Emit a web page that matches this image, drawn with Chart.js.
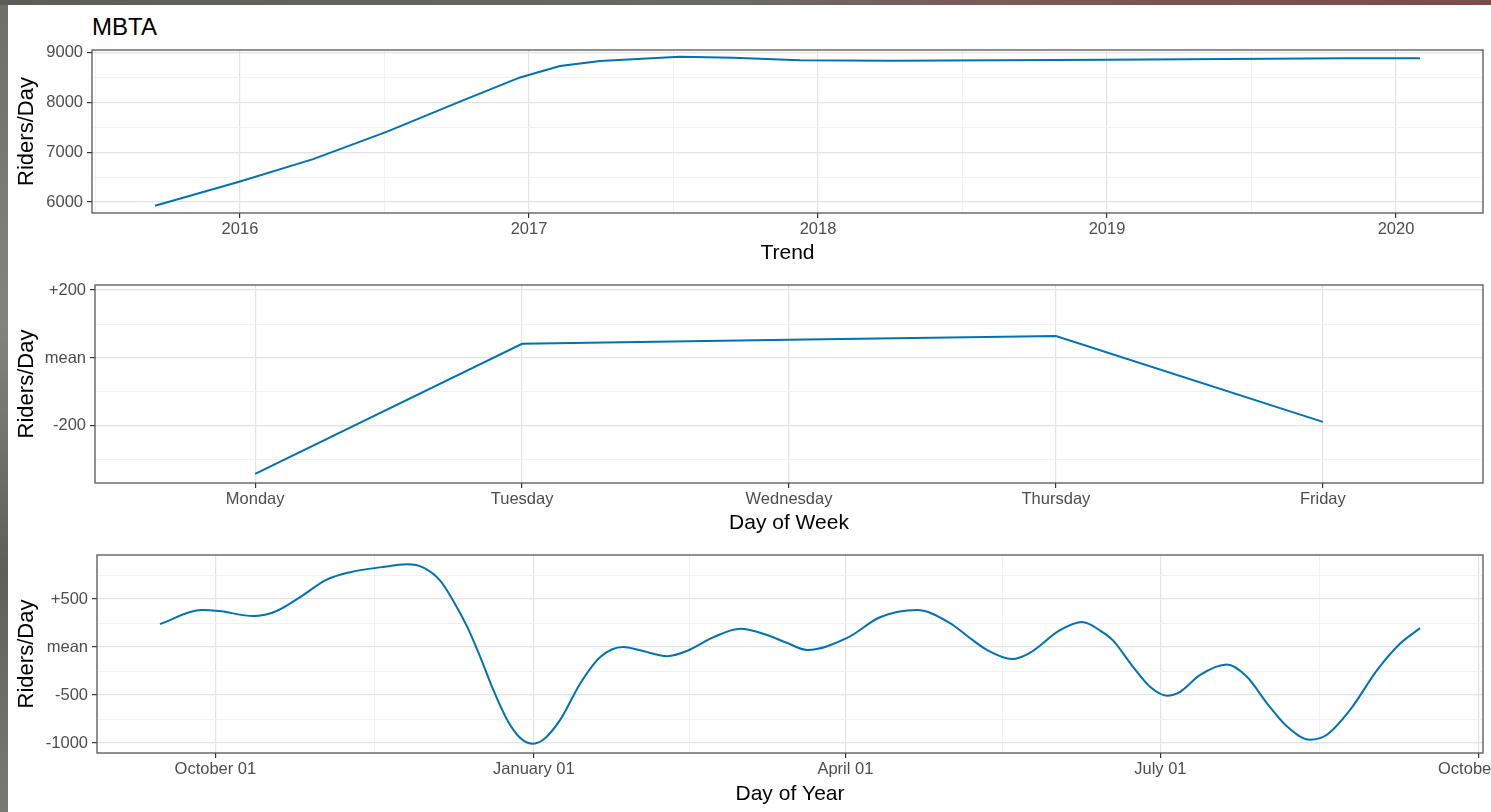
<!DOCTYPE html>
<html>
<head>
<meta charset="utf-8">
<script src="https://cdn.jsdelivr.net/npm/chart.js@4.4.1/dist/chart.umd.min.js"></script>
<style>
  html, body { margin: 0; padding: 0; }
  body {
    width: 1491px; height: 812px; overflow: hidden; position: relative;
    background: linear-gradient(180deg, #6e6e69 0%, #84847e 40%, #5f5f5a 70%, #7a7a74 100%);
  }
  #topstrip {
    position: absolute; left: 0; top: 0; width: 1491px; height: 5px;
    background: linear-gradient(90deg, #5c5c58 0%, #6a6a66 50%, #7a5a58 65%, #7b4b4b 100%);
  }
  #sheet { position: absolute; left: 8px; top: 5px; width: 1483px; height: 807px; background: #fff; }
  canvas { position: absolute; left: 8px; }
  #title {
    position: absolute; left: 92px; top: 13px; line-height: 28px;
    font-family: "Liberation Sans", Arial, sans-serif; font-size: 24px; color: #000;
  }
</style>
</head>
<body>
<div id="topstrip"></div>
<div id="sheet"></div>
<div id="title">MBTA</div>
<canvas id="trendChart" width="1483" height="265" style="top:5px"></canvas>
<canvas id="weekChart" width="1483" height="270" style="top:270px"></canvas>
<canvas id="yearChart" width="1483" height="272" style="top:540px"></canvas>

<script>
// Trend (decimal year -> riders/day)
const trendYears = [2015.706, 2016.0, 2016.253, 2016.509, 2016.761, 2016.969, 2017.107, 2017.246, 2017.522,
    2017.706, 2017.938, 2018.249, 2018.630, 2019.0, 2019.277, 2019.554, 2019.830, 2020.083];
const trendValues = [5927, 6413, 6860, 7413, 8013, 8500, 8727, 8830, 8915,
    8895, 8845, 8833, 8842, 8853, 8865, 8873, 8885, 8887];
const trendYearTicks = [2016, 2017, 2018, 2019, 2020];
const trendValueTicks = [6000, 7000, 8000, 9000];

// Weekly effect
const weekDays = ['Monday', 'Tuesday', 'Wednesday', 'Thursday', 'Friday'];
const weekValues = [-341, 42, 54, 65, -188];
const weekValueTicks = [-200, 0, 200];

// Yearly effect (days after October 01)
const seasonDays = [-16, -4, 1, 11, 17, 24.5, 32, 39, 47.6, 55.4, 60.1, 65, 68.7, 72.8, 76.5, 80.3, 84.3, 88.1,
    91.5, 94.7, 99.6, 105.4, 111.2, 117.8, 122.7, 130.5, 136.3, 143.8, 151.6, 159.4, 165, 171, 182.5, 192,
    202.7, 212.2, 217.4, 222.9, 230.2, 235.3, 244, 250.4, 255.6, 259.3, 265.1, 270, 274.9, 278.7, 284.4,
    292.2, 298, 303.8, 309.6, 316.2, 321.1, 327.8, 335.6, 342.2, 348];
const seasonValues = [240, 385, 375, 323, 365, 520, 700, 780, 830, 862, 828, 690, 483, 207, -103, -448, -759, -948,
    -1007, -966, -759, -379, -103, 0, -34, -95, -40, 100, 190, 125, 45, -30, 95, 310,
    385, 250, 110, -30, -125, -60, 175, 260, 172, 69, -207, -414, -507, -466, -293,
    -183, -310, -586, -828, -966, -914, -655, -241, 34, 197];
const seasonTickDays = [0, 92, 182, 273, 365];
const seasonTickLabels = ['October 01', 'January 01', 'April 01', 'July 01', 'October 01'];
const seasonValueTicks = [-1000, -500, 0, 500];

const FONT = '"Liberation Sans", Arial, sans-serif';
const LINE = '#0072B2';
const GRID_MAJOR = '#e3e3e3';
const GRID_MINOR = '#f1f1f1';

// majors plus ggplot-style minor breaks half way between them
function withMinor(majors, lo, hi, minor) {
    let vals = majors.slice();
    if (minor && majors.length > 1) {
        const step = majors[1] - majors[0];
        for (let i = 0; i < majors.length - 1; i++) vals.push((majors[i] + majors[i + 1]) / 2);
        vals.push(majors[0] - step / 2, majors[majors.length - 1] + step / 2);
    }
    return vals.filter(v => v >= lo && v <= hi).sort((a, b) => a - b);
}

const signed = v => v === 0 ? 'mean' : (v > 0 ? '+' : '') + v;

const panelBorder = {
    id: 'panelBorder',
    afterDraw(chart) {
        const a = chart.chartArea, c = chart.ctx;
        c.save();
        c.strokeStyle = '#555';
        c.lineWidth = 1.3;
        c.strokeRect(a.left, a.top, a.right - a.left, a.bottom - a.top);
        c.restore();
    }
};

function axis(opts) {
    const ticks = withMinor(opts.majors, opts.min, opts.max, opts.minor);
    const isX = opts.axis === 'x';
    return {
        type: 'linear',
        min: opts.min,
        max: opts.max,
        afterBuildTicks: s => { s.ticks = ticks.map(v => ({ value: v })); },
        afterFit: s => {
            if (isX) { s.height = opts.size; s.paddingLeft = 0; s.paddingRight = 0; }
            else { s.width = opts.size; s.paddingTop = 0; s.paddingBottom = 0; }
        },
        border: { display: false },
        grid: {
            color: c => opts.majors.includes(c.tick.value) ? GRID_MAJOR : GRID_MINOR,
            lineWidth: c => opts.majors.includes(c.tick.value) ? 1.2 : 1,
            tickColor: c => opts.majors.includes(c.tick.value) ? '#333' : 'rgba(0,0,0,0)',
            tickLength: 5,
            tickWidth: 1.2
        },
        ticks: {
            autoSkip: false,
            maxRotation: 0,
            padding: isX ? 2 : 4,
            color: '#4d4d4d',
            font: { family: FONT, size: 16.5 },
            callback: v => opts.majors.includes(v) ? opts.fmt(v) : ''
        },
        title: {
            display: true,
            text: opts.title,
            color: '#000',
            font: { family: FONT, size: isX ? 21 : 22 },
            padding: isX ? { top: 0, bottom: opts.titlePad } : { top: 6, bottom: 0 }
        }
    };
}

function makeChart(id, points, tension, xAxis, yAxis, padTop) {
    return new Chart(document.getElementById(id), {
        type: 'line',
        data: {
            datasets: [{
                data: points,
                borderColor: LINE,
                borderWidth: 2,
                pointRadius: 0,
                tension: tension,
                cubicInterpolationMode: tension ? 'monotone' : 'default',
                fill: false
            }]
        },
        options: {
            responsive: false,
            animation: false,
            layout: { autoPadding: false, padding: { top: padTop, right: 8, bottom: 0, left: 0 } },
            plugins: { legend: { display: false }, tooltip: { enabled: false } },
            scales: { x: xAxis, y: yAxis }
        },
        plugins: [panelBorder]
    });
}

makeChart('trendChart',
    trendYears.map((x, i) => ({ x: x, y: trendValues[i] })), 0,
    axis({ axis: 'x', min: 2015.488, max: 2020.301, majors: trendYearTicks, minor: true,
        fmt: v => String(v), title: 'Trend', size: 57, titlePad: 4 }),
    axis({ axis: 'y', min: 5780, max: 9050, majors: trendValueTicks, minor: true,
        fmt: v => String(v), title: 'Riders/Day', size: 84 }),
    45);

makeChart('weekChart',
    weekValues.map((v, i) => ({ x: i, y: v })), 0,
    axis({ axis: 'x', min: -0.6, max: 4.6, majors: weekDays.map((d, i) => i), minor: false,
        fmt: v => weekDays[v], title: 'Day of Week', size: 57, titlePad: 4 }),
    axis({ axis: 'y', min: -368, max: 215, majors: weekValueTicks, minor: true,
        fmt: signed, title: 'Riders/Day', size: 87 }),
    15);

makeChart('yearChart',
    seasonDays.map((x, i) => ({ x: x, y: seasonValues[i] })), 0.4,
    axis({ axis: 'x', min: -34.2, max: 366.2, majors: seasonTickDays, minor: true,
        fmt: v => seasonTickLabels[seasonTickDays.indexOf(v)], title: 'Day of Year', size: 59, titlePad: 5 }),
    axis({ axis: 'y', min: -1104, max: 959, majors: seasonValueTicks, minor: true,
        fmt: signed, title: 'Riders/Day', size: 89 }),
    15);
</script>
</body>
</html>
